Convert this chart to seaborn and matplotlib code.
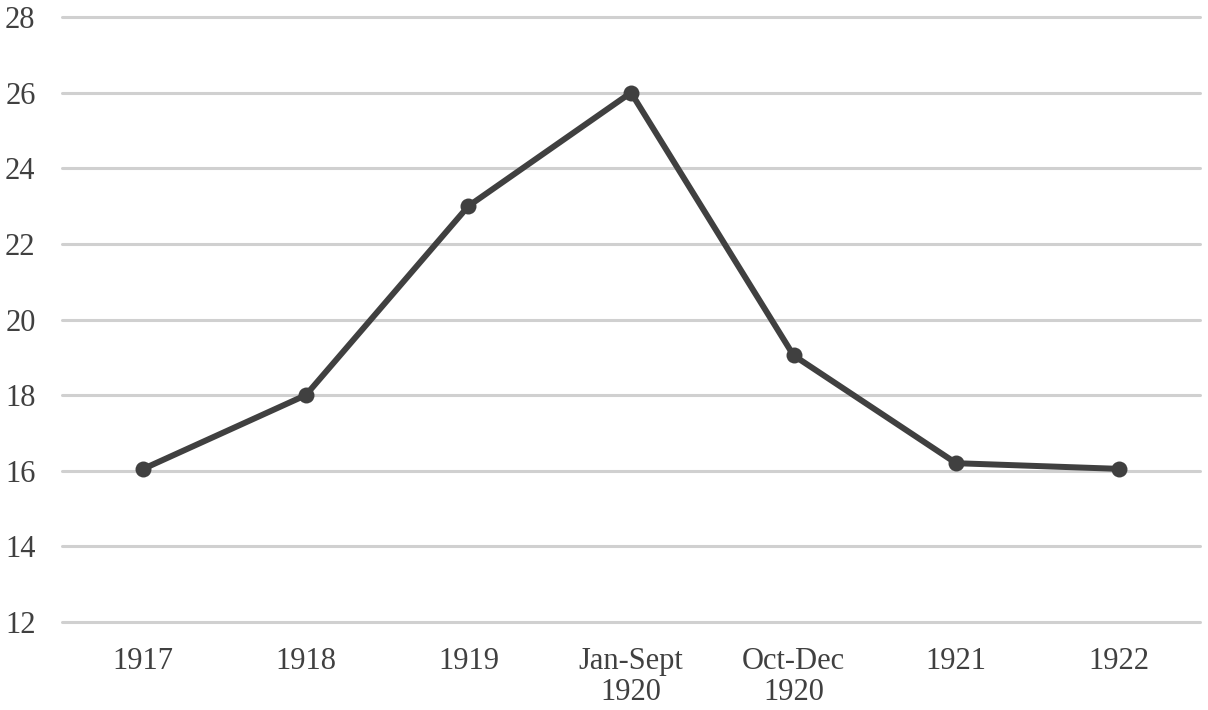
import matplotlib
matplotlib.use('Agg')
import matplotlib.pyplot as plt
import seaborn as sns
import pandas as pd

periods = ['1917', '1918', '1919', 'Jan-Sept\n1920', 'Oct-Dec\n1920', '1921', '1922']
values = [16.05, 18.0, 23.0, 26.0, 19.05, 16.2, 16.05]
y_ticks = [12, 14, 16, 18, 20, 22, 24, 26, 28]

sns.set_theme(style='white')
plt.rcParams['font.family'] = ['Liberation Serif', 'DejaVu Serif']

df = pd.DataFrame({'period': periods, 'value': values})

fig = plt.figure(figsize=(12.08, 7.10), dpi=100)
ax = fig.add_axes([62 / 1208, 1 - 622 / 710, 1138 / 1208, 605 / 710])

sns.lineplot(data=df, x='period', y='value', sort=False, color='#404040',
             linewidth=4.3, marker='o', markersize=11.5, markeredgewidth=0, ax=ax)

ax.set_xlim(-0.5, 6.5)
ax.set_ylim(12, 28)
ax.set_yticks(y_ticks)
ax.yaxis.grid(True, color='#d0d0d0', linewidth=2.2)
for gl in ax.get_ygridlines():
    gl.set_clip_on(False)
ax.set_axisbelow(True)
for s in ax.spines.values():
    s.set_visible(False)
ax.set_xlabel('')
ax.set_ylabel('')
ax.tick_params(axis='y', length=0, pad=19, labelsize=22, labelcolor='#404040')
ax.tick_params(axis='x', length=0, pad=18, labelsize=22, labelcolor='#404040')
for lab in ax.get_xticklabels():
    lab.set_linespacing(1.1)

fig.savefig('out.png', dpi=100)
